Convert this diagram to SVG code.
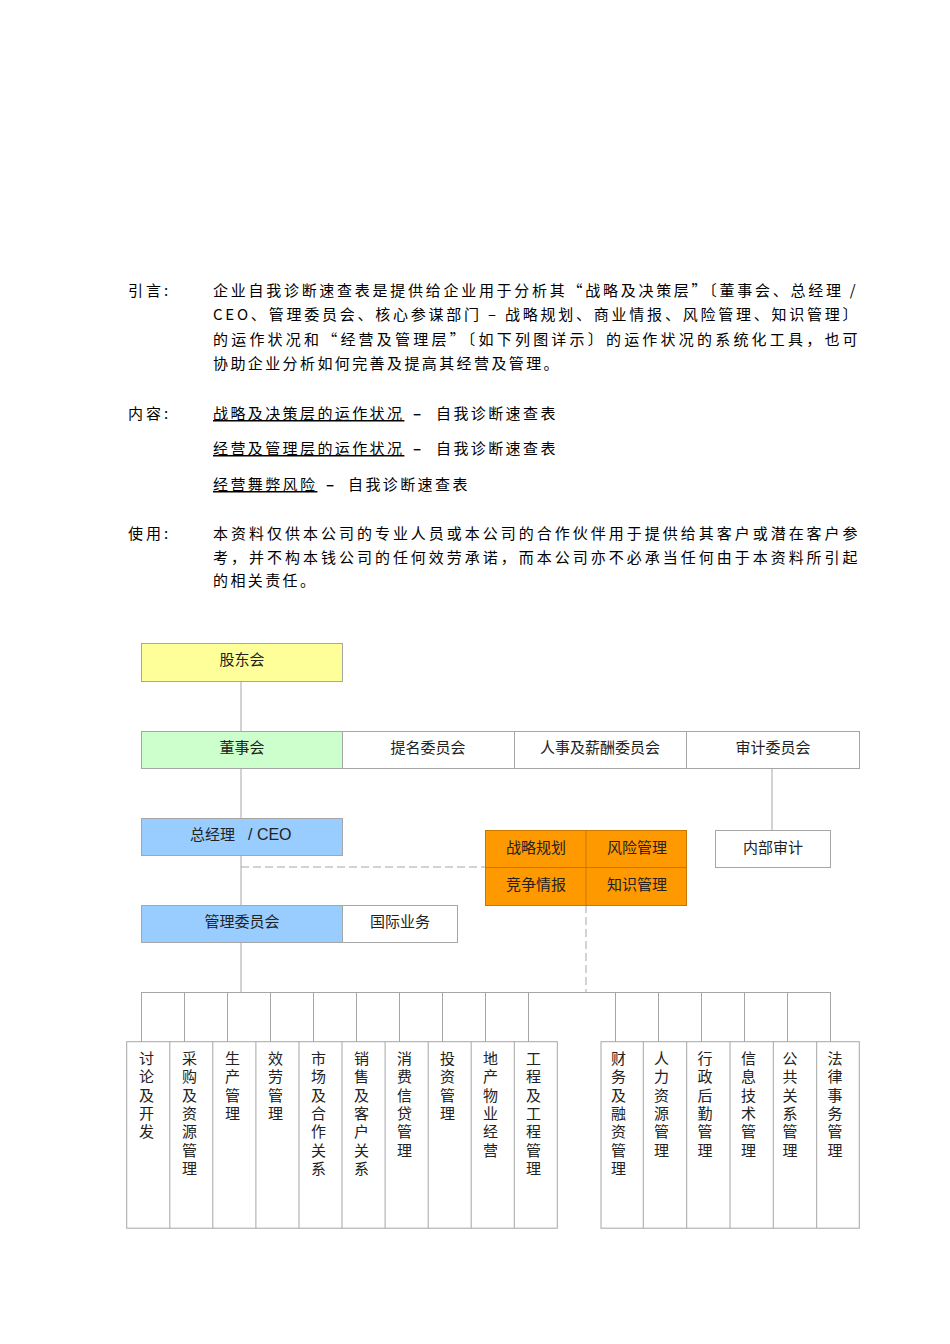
<svg xmlns="http://www.w3.org/2000/svg" width="950" height="1344" viewBox="0 0 950 1344">
<style>
.p{font-family:"Noto Sans CJK SC","Noto Sans",sans-serif;font-size:15px;fill:#000;letter-spacing:2.4px}
.pl{font-family:"Noto Sans CJK SC","Noto Sans",sans-serif;font-size:15px;fill:#000;letter-spacing:3px}
.t{font-family:"Noto Sans CJK SC","Noto Sans",sans-serif;font-size:15px;fill:#222;text-anchor:middle}
.v{font-family:"Noto Sans CJK SC","Noto Sans",sans-serif;font-size:15px;fill:#222;writing-mode:vertical-rl;letter-spacing:3.3px}
.box{stroke:#A6A6A6;stroke-width:1}
.ln{stroke:#A6A6A6;stroke-width:1;fill:none}
.dash{stroke:#A6A6A6;stroke-width:1;fill:none;stroke-dasharray:8 4}
.org{fill:#FF9900;stroke:#C87800;stroke-width:1}
.dsh{font-weight:bold}
</style>
<rect width="950" height="1344" fill="#fff"/>
<g id="intro">
<text class="pl" x="128" y="296">引言:</text>
<text class="p" x="213" y="296" textLength="645" lengthAdjust="spacing">企业自我诊断速查表是提供给企业用于分析其“战略及决策层”〔董事会、总经理 /</text>
<text class="p" x="213" y="320" textLength="647" lengthAdjust="spacing">CEO、管理委员会、核心参谋部门 – 战略规划、商业情报、风险管理、知识管理〕</text>
<text class="p" x="213" y="345" textLength="647" lengthAdjust="spacing">的运作状况和“经营及管理层”〔如下列图详示〕的运作状况的系统化工具，也可</text>
<text class="p" x="213" y="369">协助企业分析如何完善及提高其经营及管理。</text>
</g>
<g id="contents">
<text class="pl" x="128" y="419">内容:</text>
<text class="p" x="213" y="419"><tspan text-decoration="underline">战略及决策层的运作状况</tspan><tspan class="dsh" x="413">–</tspan><tspan x="436">自我诊断速查表</tspan></text>
<text class="p" x="213" y="454"><tspan text-decoration="underline">经营及管理层的运作状况</tspan><tspan class="dsh" x="413">–</tspan><tspan x="436">自我诊断速查表</tspan></text>
<text class="p" x="213" y="490"><tspan text-decoration="underline">经营舞弊风险</tspan><tspan class="dsh" x="326">–</tspan><tspan x="348">自我诊断速查表</tspan></text>
</g>
<g id="usage">
<text class="pl" x="128" y="539">使用:</text>
<text class="p" x="213" y="539" textLength="647" lengthAdjust="spacing">本资料仅供本公司的专业人员或本公司的合作伙伴用于提供给其客户或潜在客户参</text>
<text class="p" x="213" y="563" textLength="647" lengthAdjust="spacing">考，并不构本钱公司的任何效劳承诺，而本公司亦不必承当任何由于本资料所引起</text>
<text class="p" x="213" y="586">的相关责任。</text>
</g>
<g id="connectors">
<line class="ln" x1="241" y1="681" x2="241" y2="731"/>
<line class="ln" x1="241" y1="768" x2="241" y2="818"/>
<line class="ln" x1="241" y1="855" x2="241" y2="905"/>
<line class="ln" x1="241" y1="942" x2="241" y2="992"/>
<line class="ln" x1="772" y1="768" x2="772" y2="830"/>
<line class="dash" x1="241" y1="867" x2="485" y2="867"/>
<line class="dash" x1="586" y1="905" x2="586" y2="992"/>
<line class="ln" x1="141.5" y1="992.5" x2="830.5" y2="992.5"/>
<path class="ln" d="M141.5 992V1042M184.5 992V1042M227.5 992V1042M270.5 992V1042M313.5 992V1042M356.5 992V1042M399.5 992V1042M442.5 992V1042M485.5 992V1042M528.5 992V1042M615.5 992V1042M658.5 992V1042M701.5 992V1042M744.5 992V1042M787.5 992V1042M830.5 992V1042"/>
</g>
<g id="n-gudonghui"><rect class="box" x="141.5" y="643.5" width="201" height="38" fill="#FFFF99"/><text class="t" x="242" y="665">股东会</text></g>
<g id="n-dongshihui"><rect class="box" x="141.5" y="731.5" width="201" height="37" fill="#CCFFCC"/><text class="t" x="242" y="753">董事会</text></g>
<g id="n-timing"><rect class="box" x="342.5" y="731.5" width="172" height="37" fill="#fff"/><text class="t" x="428" y="753">提名委员会</text></g>
<g id="n-renshi"><rect class="box" x="514.5" y="731.5" width="172" height="37" fill="#fff"/><text class="t" x="600" y="753">人事及薪酬委员会</text></g>
<g id="n-shenji"><rect class="box" x="686.5" y="731.5" width="173" height="37" fill="#fff"/><text class="t" x="773" y="753">审计委员会</text></g>
<g id="n-ceo"><rect class="box" x="141.5" y="818.5" width="201" height="37" fill="#99CCFF"/><text class="t" x="190" y="840" style="text-anchor:start"><tspan>总经理</tspan><tspan x="248" font-family="Liberation Sans, Arial, sans-serif" font-size="16">/ CEO</tspan></text></g>
<g id="n-staff">
<rect class="org" x="485.5" y="830.5" width="201" height="75"/>
<line x1="586" y1="830.5" x2="586" y2="905.5" stroke="#C87800"/>
<line x1="485.5" y1="867.5" x2="686.5" y2="867.5" stroke="#C87800"/>
<text class="t" x="536" y="853">战略规划</text>
<text class="t" x="637" y="853">风险管理</text>
<text class="t" x="536" y="890">竞争情报</text>
<text class="t" x="637" y="890">知识管理</text>
</g>
<g id="n-neibushenji"><rect class="box" x="715.5" y="830.5" width="115" height="37" fill="#fff"/><text class="t" x="773" y="853">内部审计</text></g>
<g id="n-guanli"><rect class="box" x="141.5" y="905.5" width="201" height="37" fill="#99CCFF"/><text class="t" x="242" y="927">管理委员会</text></g>
<g id="n-guoji"><rect class="box" x="342.5" y="905.5" width="115" height="37" fill="#fff"/><text class="t" x="400" y="927">国际业务</text></g>
<g id="depts-left">
<rect class="box" x="126.7" y="1041.7" width="430.6" height="186.5" fill="#fff"/>
<path class="ln" d="M169.8 1042V1228M212.8 1042V1228M255.9 1042V1228M299 1042V1228M342 1042V1228M385.1 1042V1228M428.2 1042V1228M471.2 1042V1228M514.3 1042V1228"/>
<text class="v" x="146.5" y="1051">讨论及开发</text>
<text class="v" x="189.5" y="1051">采购及资源管理</text>
<text class="v" x="232.5" y="1051">生产管理</text>
<text class="v" x="275.5" y="1051">效劳管理</text>
<text class="v" x="318.5" y="1051">市场及合作关系</text>
<text class="v" x="361.5" y="1051">销售及客户关系</text>
<text class="v" x="404.5" y="1051">消费信贷管理</text>
<text class="v" x="447.5" y="1051">投资管理</text>
<text class="v" x="490.5" y="1051">地产物业经营</text>
<text class="v" x="533.5" y="1051">工程及工程管理</text>
</g>
<g id="depts-right">
<rect class="box" x="601" y="1041.7" width="258.3" height="186.5" fill="#fff"/>
<path class="ln" d="M643.3 1042V1228M686.7 1042V1228M730 1042V1228M773.3 1042V1228M816.7 1042V1228"/>
<text class="v" x="618.5" y="1051">财务及融资管理</text>
<text class="v" x="661.5" y="1051">人力资源管理</text>
<text class="v" x="705" y="1051">行政后勤管理</text>
<text class="v" x="748.5" y="1051">信息技术管理</text>
<text class="v" x="790" y="1051">公共关系管理</text>
<text class="v" x="835" y="1051">法律事务管理</text>
</g>
</svg>
